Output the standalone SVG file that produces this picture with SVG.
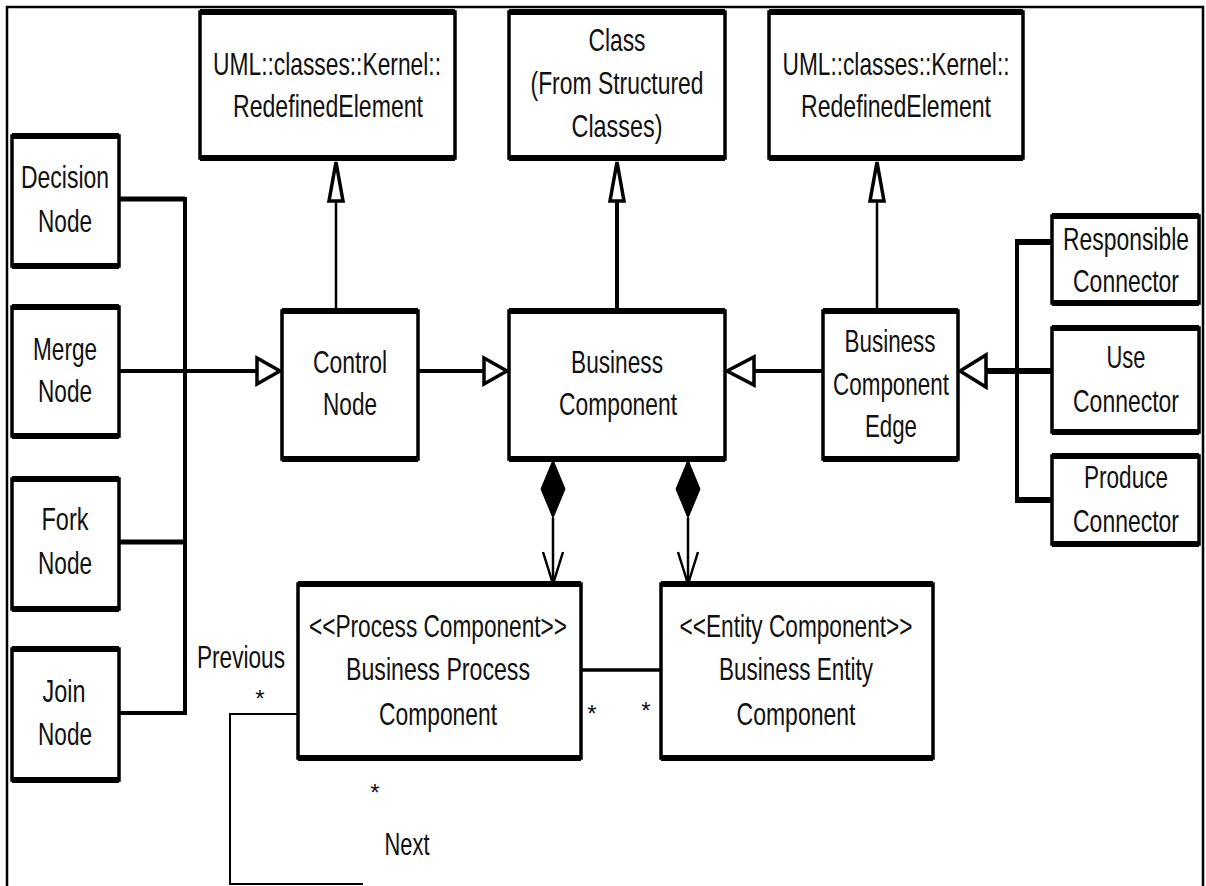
<svg xmlns="http://www.w3.org/2000/svg" width="1206" height="886" viewBox="0 0 1206 886">
  <style>
    .box { fill: #fff; stroke: #000; stroke-width: 3.5; }
    .hb { fill: none; stroke: #000; stroke-width: 6; }
    .t { font-family: "Liberation Sans", Arial, sans-serif; font-size: 23px; text-anchor: middle; fill: #111; }
    .m { font-family: "Liberation Sans", Arial, sans-serif; font-size: 24px; text-anchor: middle; fill: #111; }
    .ln { fill: none; stroke: #000; }
    .gen { fill: #fff; stroke: #000; stroke-width: 3.5; stroke-linejoin: miter; }
    .comp { fill: #000; stroke: #000; stroke-width: 1; }
    .open { fill: none; stroke: #000; stroke-width: 2.5; }
    .frame { fill: none; stroke: #000; stroke-width: 2.5; }
  </style>

  <!-- outer frame -->
  <path class="frame" d="M7,886 V7 H1203 V886"/>

  <!-- connectors -->
  <g id="connectors">
    <!-- activity control nodes into Control Node -->
    <path class="ln" stroke-width="5" d="M119,199 H185"/>
    <path class="ln" stroke-width="4" d="M119,371 H258"/>
    <path class="ln" stroke-width="5" d="M119,542 H185"/>
    <path class="ln" stroke-width="4" d="M119,713 H185"/>
    <path class="ln" stroke-width="4" d="M185,197 V715"/>
    <polygon class="gen" points="280,371 257,358 257,384"/>

    <!-- Control Node to Business Component -->
    <path class="ln" stroke-width="4" d="M418,371 H485"/>
    <polygon class="gen" points="507,371 484,358 484,384"/>

    <!-- generalizations to the upper classes -->
    <path class="ln" stroke-width="2.5" d="M336,202 V311"/>
    <polygon class="gen" points="336,162 329,201 343,201"/>
    <path class="ln" stroke-width="4" d="M617,202 V311"/>
    <polygon class="gen" points="617,162 610,201 624,201"/>
    <path class="ln" stroke-width="2.5" d="M877,202 V311"/>
    <polygon class="gen" points="877,162 870,201 884,201"/>

    <!-- Business Component Edge to Business Component -->
    <path class="ln" stroke-width="4" d="M823,371 H753"/>
    <polygon class="gen" points="727,371 754,357 754,385"/>

    <!-- connector kinds into Business Component Edge -->
    <path class="ln" stroke-width="6" d="M1052,371 H985"/>
    <polygon class="gen" points="960,371 986,355 986,387"/>
    <path class="ln" stroke-width="4" d="M1017,240 V502"/>
    <path class="ln" stroke-width="6" d="M1015,242 H1052"/>
    <path class="ln" stroke-width="6" d="M1015,500 H1052"/>

    <!-- compositions -->
    <polygon class="comp" points="553,460 565,489 553,518 541,489"/>
    <path class="ln" stroke-width="2.5" d="M553,518 V584"/>
    <path class="open" d="M543,552 L553,584 L563,552"/>
    <polygon class="comp" points="688,460 700,489 688,518 676,489"/>
    <path class="ln" stroke-width="2.5" d="M688,518 V584"/>
    <path class="open" d="M678,552 L688,584 L698,552"/>

    <!-- association between process and entity components -->
    <path class="ln" stroke-width="3.5" d="M581,670 H661"/>

    <!-- Previous / Next self association -->
    <path class="ln" stroke="#333" stroke-width="2" d="M298,714 H230 V884 H363"/>

    <text class="m" x="592" y="722">*</text>
    <text class="m" x="646" y="719">*</text>
    <text class="t" transform="translate(241,668) scale(1,1.35)" textLength="88" lengthAdjust="spacingAndGlyphs">Previous</text>
    <text class="m" x="260" y="707">*</text>
    <text class="m" x="375" y="801">*</text>
    <text class="t" transform="translate(407,855) scale(1,1.35)" textLength="45" lengthAdjust="spacingAndGlyphs">Next</text>
  </g>

  <!-- nodes -->
  <g id="uml-redefined-1">
    <rect class="box" x="200" y="12" width="255" height="146"/>
    <path class="hb" d="M200,12 H455 M200,158 H455"/>
    <text class="t" transform="translate(327,75) scale(1,1.35)" textLength="228" lengthAdjust="spacingAndGlyphs">UML::classes::Kernel::</text>
    <text class="t" transform="translate(328,117) scale(1,1.35)" textLength="190" lengthAdjust="spacingAndGlyphs">RedefinedElement</text>
  </g>

  <g id="class-structured">
    <rect class="box" x="509" y="12" width="216" height="146"/>
    <path class="hb" d="M509,12 H725 M509,158 H725"/>
    <text class="t" transform="translate(617,51) scale(1,1.35)" textLength="57" lengthAdjust="spacingAndGlyphs">Class</text>
    <text class="t" transform="translate(617,94) scale(1,1.35)" textLength="173" lengthAdjust="spacingAndGlyphs">(From Structured</text>
    <text class="t" transform="translate(617,137) scale(1,1.35)" textLength="91" lengthAdjust="spacingAndGlyphs">Classes)</text>
  </g>

  <g id="uml-redefined-2">
    <rect class="box" x="769" y="12" width="254" height="146"/>
    <path class="hb" d="M769,12 H1023 M769,158 H1023"/>
    <text class="t" transform="translate(896,75) scale(1,1.35)" textLength="227" lengthAdjust="spacingAndGlyphs">UML::classes::Kernel::</text>
    <text class="t" transform="translate(896,117) scale(1,1.35)" textLength="190" lengthAdjust="spacingAndGlyphs">RedefinedElement</text>
  </g>

  <g id="decision-node">
    <rect class="box" x="12" y="136" width="107" height="130"/>
    <path class="hb" d="M12,136 H119 M12,266 H119"/>
    <text class="t" transform="translate(65,188) scale(1,1.35)" textLength="88" lengthAdjust="spacingAndGlyphs">Decision</text>
    <text class="t" transform="translate(65,232) scale(1,1.35)" textLength="54" lengthAdjust="spacingAndGlyphs">Node</text>
  </g>

  <g id="merge-node">
    <rect class="box" x="12" y="307" width="107" height="129"/>
    <path class="hb" d="M12,307 H119 M12,436 H119"/>
    <text class="t" transform="translate(65,360) scale(1,1.35)" textLength="64" lengthAdjust="spacingAndGlyphs">Merge</text>
    <text class="t" transform="translate(65,402) scale(1,1.35)" textLength="54" lengthAdjust="spacingAndGlyphs">Node</text>
  </g>

  <g id="fork-node">
    <rect class="box" x="12" y="479" width="107" height="130"/>
    <path class="hb" d="M12,479 H119 M12,609 H119"/>
    <text class="t" transform="translate(65,530) scale(1,1.35)" textLength="47" lengthAdjust="spacingAndGlyphs">Fork</text>
    <text class="t" transform="translate(65,574) scale(1,1.35)" textLength="54" lengthAdjust="spacingAndGlyphs">Node</text>
  </g>

  <g id="join-node">
    <rect class="box" x="12" y="649" width="107" height="131"/>
    <path class="hb" d="M12,649 H119 M12,780 H119"/>
    <text class="t" transform="translate(64,702) scale(1,1.35)" textLength="43" lengthAdjust="spacingAndGlyphs">Join</text>
    <text class="t" transform="translate(65,745) scale(1,1.35)" textLength="54" lengthAdjust="spacingAndGlyphs">Node</text>
  </g>

  <g id="control-node">
    <rect class="box" x="282" y="311" width="136" height="148"/>
    <path class="hb" d="M282,311 H418 M282,459 H418"/>
    <text class="t" transform="translate(350,373) scale(1,1.35)" textLength="74" lengthAdjust="spacingAndGlyphs">Control</text>
    <text class="t" transform="translate(350,415) scale(1,1.35)" textLength="54" lengthAdjust="spacingAndGlyphs">Node</text>
  </g>

  <g id="business-component">
    <rect class="box" x="509" y="311" width="216" height="148"/>
    <path class="hb" d="M509,311 H725 M509,459 H725"/>
    <text class="t" transform="translate(617,373) scale(1,1.35)" textLength="92" lengthAdjust="spacingAndGlyphs">Business</text>
    <text class="t" transform="translate(618,415) scale(1,1.35)" textLength="118" lengthAdjust="spacingAndGlyphs">Component</text>
  </g>

  <g id="business-component-edge">
    <rect class="box" x="823" y="311" width="135" height="148"/>
    <path class="hb" d="M823,311 H958 M823,459 H958"/>
    <text class="t" transform="translate(890,352) scale(1,1.35)" textLength="91" lengthAdjust="spacingAndGlyphs">Business</text>
    <text class="t" transform="translate(891,395) scale(1,1.35)" textLength="116" lengthAdjust="spacingAndGlyphs">Component</text>
    <text class="t" transform="translate(891,437) scale(1,1.35)" textLength="52" lengthAdjust="spacingAndGlyphs">Edge</text>
  </g>

  <g id="responsible-connector">
    <rect class="box" x="1052" y="216" width="147" height="87"/>
    <path class="hb" d="M1052,216 H1199 M1052,303 H1199"/>
    <text class="t" transform="translate(1126,250) scale(1,1.35)" textLength="126" lengthAdjust="spacingAndGlyphs">Responsible</text>
    <text class="t" transform="translate(1126,292) scale(1,1.35)" textLength="106" lengthAdjust="spacingAndGlyphs">Connector</text>
  </g>

  <g id="use-connector">
    <rect class="box" x="1052" y="328" width="147" height="104"/>
    <path class="hb" d="M1052,328 H1199 M1052,432 H1199"/>
    <text class="t" transform="translate(1126,368) scale(1,1.35)" textLength="39" lengthAdjust="spacingAndGlyphs">Use</text>
    <text class="t" transform="translate(1126,412) scale(1,1.35)" textLength="106" lengthAdjust="spacingAndGlyphs">Connector</text>
  </g>

  <g id="produce-connector">
    <rect class="box" x="1052" y="456" width="147" height="88"/>
    <path class="hb" d="M1052,456 H1199 M1052,544 H1199"/>
    <text class="t" transform="translate(1126,488) scale(1,1.35)" textLength="84" lengthAdjust="spacingAndGlyphs">Produce</text>
    <text class="t" transform="translate(1126,532) scale(1,1.35)" textLength="106" lengthAdjust="spacingAndGlyphs">Connector</text>
  </g>

  <g id="business-process-component">
    <rect class="box" x="298" y="584" width="283" height="174"/>
    <path class="hb" d="M298,584 H581 M298,758 H581"/>
    <text class="t" transform="translate(438,637) scale(1,1.35)" textLength="258" lengthAdjust="spacingAndGlyphs">&lt;&lt;Process Component&gt;&gt;</text>
    <text class="t" transform="translate(438,680) scale(1,1.35)" textLength="184" lengthAdjust="spacingAndGlyphs">Business Process</text>
    <text class="t" transform="translate(438,725) scale(1,1.35)" textLength="118" lengthAdjust="spacingAndGlyphs">Component</text>
  </g>

  <g id="business-entity-component">
    <rect class="box" x="661" y="584" width="272" height="174"/>
    <path class="hb" d="M661,584 H933 M661,758 H933"/>
    <text class="t" transform="translate(796,637) scale(1,1.35)" textLength="233" lengthAdjust="spacingAndGlyphs">&lt;&lt;Entity Component&gt;&gt;</text>
    <text class="t" transform="translate(796,680) scale(1,1.35)" textLength="154" lengthAdjust="spacingAndGlyphs">Business Entity</text>
    <text class="t" transform="translate(796,725) scale(1,1.35)" textLength="119" lengthAdjust="spacingAndGlyphs">Component</text>
  </g>
</svg>
